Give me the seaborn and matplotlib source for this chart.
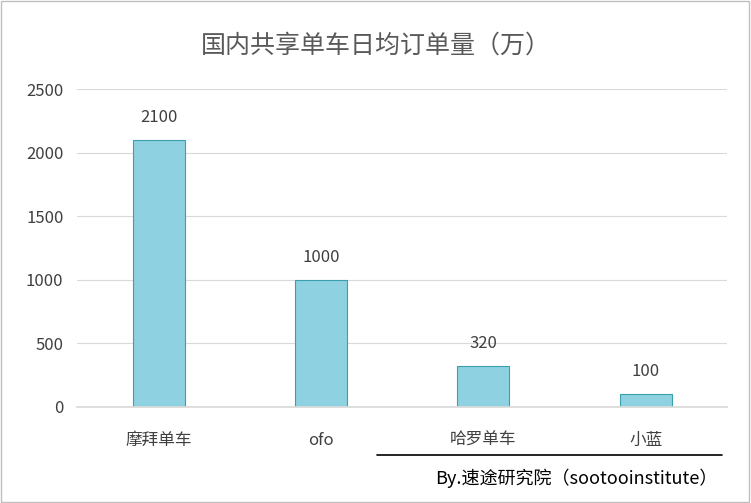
import matplotlib
matplotlib.use("Agg")
import matplotlib.pyplot as plt
import seaborn as sns
import pandas as pd
from matplotlib.lines import Line2D
from matplotlib.patches import Rectangle

categories = ["摩拜单车", "ofo", "哈罗单车", "小蓝"]
values = [2100, 1000, 320, 100]
yticks = [0, 500, 1000, 1500, 2000, 2500]

sns.set_theme(style="white")
plt.rcParams['font.family'] = ['Noto Sans CJK SC', 'DejaVu Sans']

fig = plt.figure(figsize=(7.51, 5.03), dpi=100)
ax = fig.add_axes([0.103, 0.191, 0.865, 0.632])
df = pd.DataFrame({"cat": categories, "val": values})
sns.barplot(data=df, x="cat", y="val", ax=ax, color="#8ED1E0", width=0.32,
            edgecolor="#3A9FAE", linewidth=0.8, saturation=1)
ax.set_ylim(0, 2500)
ax.set_yticks(yticks)
ax.set_xlim(-0.5, 3.5)
ax.yaxis.grid(True, color="#D9D9D9", linewidth=0.8)
ax.set_axisbelow(True)
for s in ["top", "right", "left"]:
    ax.spines[s].set_visible(False)
ax.spines["bottom"].set_color("#D9D9D9")
ax.set_xlabel("")
ax.set_ylabel("")
ax.tick_params(axis="y", length=0, labelsize=12, colors="#404040", pad=10)
ax.tick_params(axis="x", length=0, labelsize=12, colors="#404040", pad=18)
for c in ax.containers:
    ax.bar_label(c, padding=10, fontsize=12, color="#404040")
fig.text(0.5, 0.91, "国内共享单车日均订单量（万）", ha="center", va="center",
         fontsize=18, color="#595959")
fig.add_artist(Line2D([377/751, 722/751], [1-455/503, 1-455/503], color="black", lw=1.2))
fig.text(0.955, 1-478/503, "By.速途研究院（sootooinstitute）", ha="right", va="center",
         fontsize=13, color="black")
fig.add_artist(Rectangle((0.001, 0.002), 0.997, 0.996, transform=fig.transFigure,
                         fill=False, edgecolor="#BFBFBF", lw=1))
fig.savefig("out.png", dpi=100)
